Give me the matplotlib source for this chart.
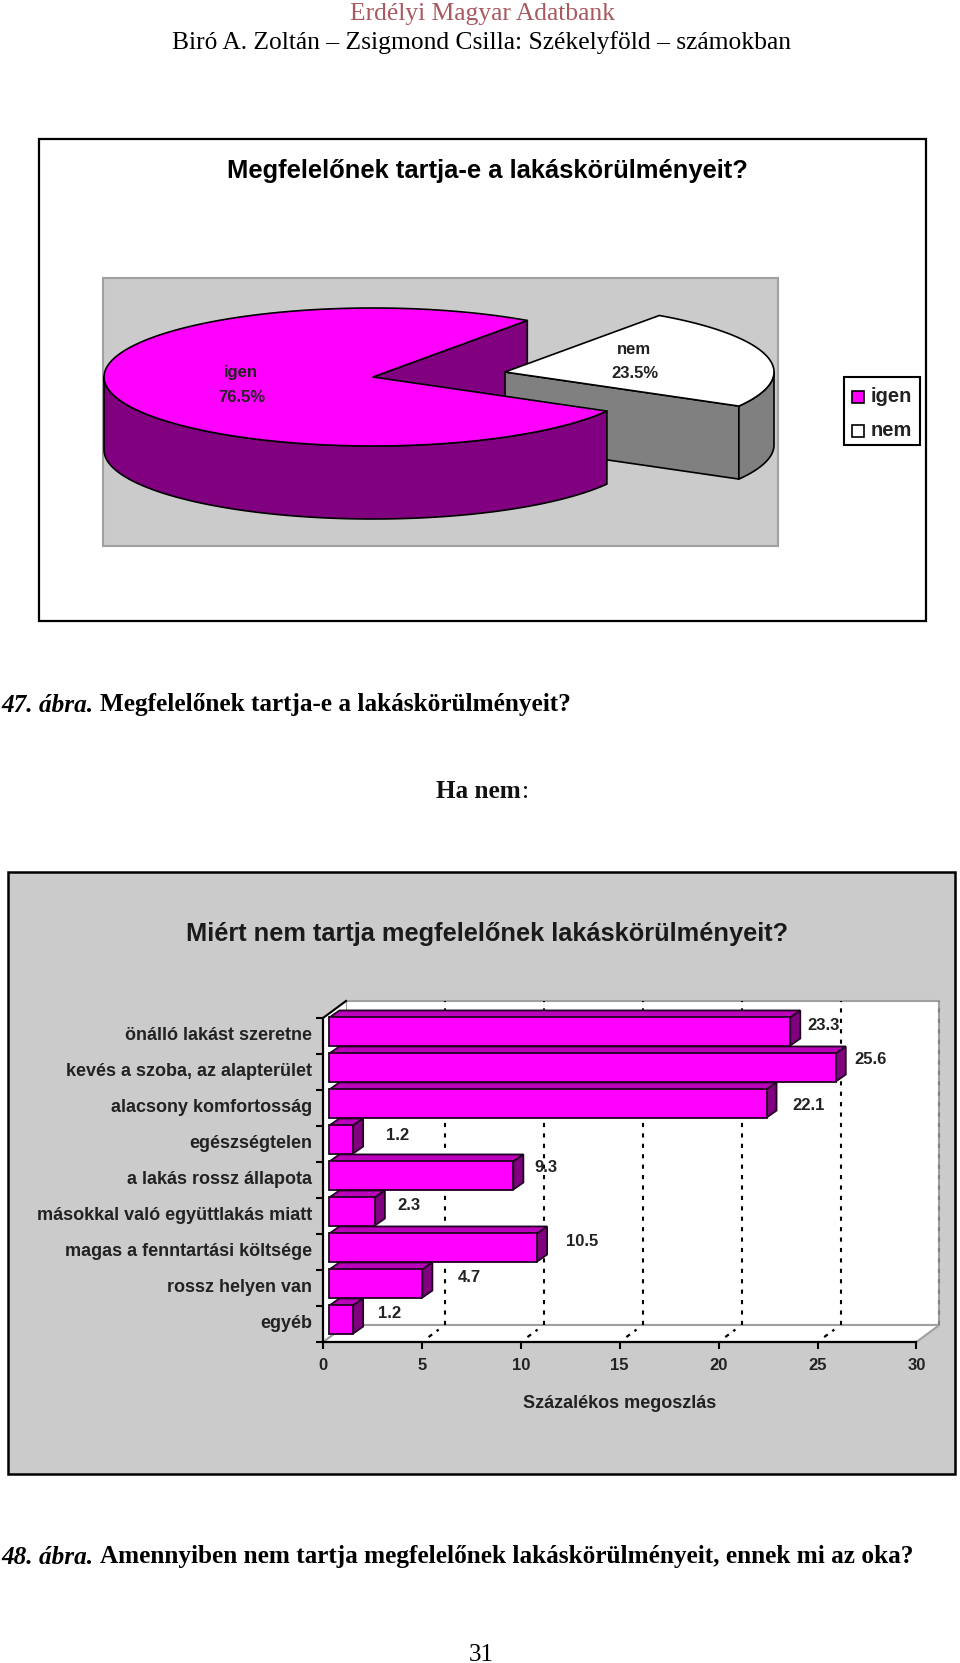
import numpy as np
import matplotlib
matplotlib.use("Agg")
import matplotlib.pyplot as plt
from matplotlib.patches import Polygon, Rectangle
from matplotlib.transforms import Affine2D, IdentityTransform, offset_copy

# pie data
pie_labels = ["igen", "nem"]
pie_shares = [76.5, 23.5]

# bar data
bar_labels = ["önálló lakást szeretne", "kevés a szoba, az alapterület", "alacsony komfortosság",
              "egészségtelen", "a lakás rossz állapota", "másokkal való együttlakás miatt",
              "magas a fenntartási költsége", "rossz helyen van", "egyéb"]
bar_values = [23.3, 25.6, 22.1, 1.2, 9.3, 2.3, 10.5, 4.7, 1.2]
x_ticks = [0, 5, 10, 15, 20, 25, 30]

W, H = 960, 1663
MAGENTA = "#ff00ff"
PURPLE = "#800080"
BAR_TOP = "#bb00bb"
GREY = "#808080"
PANEL = "#cbcbcb"
SANS = "Liberation Sans"
SERIF = "Liberation Serif"

plt.rcParams["font.family"] = SANS
fig = plt.figure(figsize=(W / 100, H / 100), dpi=100, facecolor="white")

# whole page, in pixels
page = fig.add_axes([0, 0, 1, 1])
page.set_xlim(0, W)
page.set_ylim(H, 0)
page.axis("off")


def box(x0, y0, x1, y1, fc, ec="black", lw=1.5, z=1):
    page.add_patch(Rectangle((x0, y0), x1 - x0, y1 - y0, fc=fc, ec=ec, lw=lw, zorder=z))


# page text
page.text(482, 14, "Erdélyi Magyar Adatbank", family=SERIF, size=18.4, color="#a85a60", ha="center", va="center")
page.text(481, 43, "Biró A. Zoltán – Zsigmond Csilla: Székelyföld – számokban", family=SERIF, size=18.4,
          ha="center", va="center")
page.text(1, 705, "47. ábra.", family=SERIF, size=18.2, weight="bold", style="italic", va="center")
page.text(100, 705, "Megfelelőnek tartja-e a lakáskörülményeit?", family=SERIF, size=18.2, weight="bold", va="center")
page.text(436, 792, "Ha nem", family=SERIF, size=18.2, weight="bold", va="center", color="#111111")
page.text(522, 792, ":", family=SERIF, size=18.2, va="center", color="#111111")
page.text(1, 1557, "48. ábra.", family=SERIF, size=18.2, weight="bold", style="italic", va="center")
page.text(100, 1557, "Amennyiben nem tartja megfelelőnek lakáskörülményeit, ennek mi az oka?", family=SERIF,
          size=18.2, weight="bold", va="center")
page.text(481, 1655, "31", family=SERIF, size=18, ha="center", va="center")

# first chart frame
box(39, 139, 926, 621, "white", lw=1.6)
box(103, 278, 778, 546, PANEL, ec="#a0a0a0", lw=1.5, z=2)
page.text(487, 171, "Megfelelőnek tartja-e a lakáskörülményeit?", size=18.4, weight="bold", ha="center", va="center")

# pie geometry: angles come from the shares
rx, ry, depth = 269, 69, 73
cx, cy = 373, 377
nx, ny = 505, 372
start = 55
end = start + pie_shares[0] * 3.6


def arc(x, y, a1, a2):
    t = np.radians(np.linspace(a1, a2, 120))
    return np.column_stack([x + rx * np.cos(t), y - ry * np.sin(t)])


def face(points, color, z):
    page.add_patch(Polygon(points, closed=True, fc=color, ec="black", lw=1.2, zorder=z, joinstyle="round"))


def rim(x, y, a1, a2, color, z):
    top = arc(x, y, a1, a2)
    face(np.vstack([top, (top + [0, depth])[::-1]]), color, z)


def cut(x, y, a, color, z):
    edge = arc(x, y, a, a)[0]
    face([(x, y), edge, edge + [0, depth], (x, y + depth)], color, z)


cut(cx, cy, start, PURPLE, 3)
cut(nx, ny, end, GREY, 4)
rim(nx, ny, end - 360, 0, GREY, 4)
face(np.vstack([[(nx, ny)], arc(nx, ny, end - 360, start)]), "white", 5)
rim(cx, cy, 180, end, PURPLE, 6)
face(np.vstack([[(cx, cy)], arc(cx, cy, start, end)]), MAGENTA, 7)

page.text(241, 372, pie_labels[0], size=12, weight="bold", color="#222222", ha="center", va="center", zorder=8)
page.text(242, 397, f"{pie_shares[0]}%", size=12, weight="bold", color="#222222", ha="center", va="center", zorder=8)
page.text(634, 350, pie_labels[1], size=12, weight="bold", color="#222222", ha="center", va="center", zorder=8)
page.text(635, 374, f"{pie_shares[1]}%", size=12, weight="bold", color="#222222", ha="center", va="center", zorder=8)

# legend
box(844, 377, 920, 445, "white", lw=1.5)
for label, color, y in zip(pie_labels, [MAGENTA, "white"], [397, 431]):
    box(852, y - 6, 864, y + 6, color, lw=1.2, z=3)
    page.text(871, y, label, size=14.5, weight="bold", color="#222222", va="center", zorder=3)

# second chart frame
box(8, 872, 955, 1474, PANEL, lw=1.8)
page.text(487, 934, "Miért nem tartja megfelelőnek lakáskörülményeit?", size=18.3, ha="center", va="center",
          weight="bold", color="#1a1a1a")

# bar axes, same pixel frame as the front of the 3d box
ax = fig.add_axes([323 / W, 1 - 1342 / H, 593.4 / W, 324 / H])
ax.patch.set_visible(False)
ax.set_xlim(0, 30)
y_pos = np.arange(len(bar_values))
ax.set_ylim(len(bar_values) - 0.5, -0.5)
for s in ["top", "right"]:
    ax.spines[s].set_visible(False)
ax.spines["left"].set_linewidth(1.6)
ax.spines["bottom"].set_linewidth(1.6)
ax.set_xticks(x_ticks)
ax.set_yticks(y_pos, bar_labels, fontsize=13, weight="bold", color="#222222")
ax.set_yticks(np.arange(len(bar_values) + 1) - 0.5, minor=True)
ax.tick_params(axis="y", which="major", length=0, pad=8)
ax.tick_params(axis="y", which="minor", length=5, width=1.5)
ax.tick_params(axis="x", length=5, width=1.5, labelsize=12, pad=6.5, labelcolor="#222222")
for lab in ax.get_xticklabels():
    lab.set_weight("bold")
for lab in ax.get_yticklabels():
    lab.set_transform(lab.get_transform() + Affine2D().translate(0, 2))
ax.set_xlabel("Százalékos megoszlás", fontsize=13, weight="bold", color="#222222", labelpad=16)

# walls and floor
back_dx, back_dy = 23, 17
back = offset_copy(ax.transData, fig, x=back_dx, y=back_dy, units="dots")
to_px = ax.transData.transform
x_l, x_r = ax.get_xlim()
y_b, y_t = ax.get_ylim()
fl, fr = to_px((x_l, y_b)), to_px((x_r, y_b))
tl = to_px((x_l, y_t))
shift = np.array([back_dx, back_dy])


def px_poly(points, fc, ec, lw, z):
    ax.add_patch(Polygon(points, closed=True, fc=fc, ec=ec, lw=lw, zorder=z, transform=IdentityTransform(),
                         clip_on=False))


tr = to_px((x_r, y_t))
px_poly([fl + shift, fr + shift, tr + shift, tl + shift], "white", "#a0a0a0", 1.5, 0.5)
px_poly([fl, fr, fr + shift, fl + shift], "white", "#a0a0a0", 1.5, 0.6)
px_poly([fl, tl, tl + shift, fl + shift], "white", "none", 0, 0.6)
ax.plot(*np.column_stack([tl, tl + shift]), color="black", lw=1.5, transform=IdentityTransform(), clip_on=False,
        zorder=0.9)
ax.plot(*np.column_stack([fl, fl + shift]), color="#a0a0a0", lw=1.5, transform=IdentityTransform(), clip_on=False,
        zorder=0.9)

for t in x_ticks[1:]:
    grid_color = "black" if t < x_ticks[-1] else GREY
    ax.plot([t, t], [y_b, y_t], color=grid_color, lw=1.5, ls=(0, (2, 3)), transform=back, clip_on=False, zorder=1)
    if t < x_ticks[-1]:
        front = to_px((t, y_b))
        a, b = front + shift * 0.29, front + shift * 0.73
        ax.plot([a[0], b[0]], [a[1], b[1]], color="black", lw=1.6, ls=(0, (2, 2.5)),
                transform=IdentityTransform(), clip_on=False, zorder=1)

# bars: front face from barh, sides built from the same data
bar_h = 0.78
bar_off = offset_copy(ax.transData, fig, x=6.4, y=4.5, units="dots")
box_dx, box_dy = 10, 7
for i, v in enumerate(bar_values):
    x0, y0 = bar_off.transform((0, i + bar_h / 2))
    x1, y1 = bar_off.transform((v, i - bar_h / 2))
    z = 2 + i * 0.01
    px_poly([(x0, y1), (x1, y1), (x1 + box_dx, y1 + box_dy), (x0 + box_dx, y1 + box_dy)], BAR_TOP, "#200020", 1.3, z)
    px_poly([(x1, y0), (x1, y1), (x1 + box_dx, y1 + box_dy), (x1 + box_dx, y0 + box_dy)], PURPLE, "#200020", 1.3, z)
bars = ax.barh(y_pos, bar_values, height=bar_h, color=MAGENTA, edgecolor="#200020", lw=1.3, zorder=3,
               transform=bar_off, clip_on=False)

# value labels sit by hand, they do not follow one rule in the original
label_dx = [40, 41, 48, 51, 39, 40, 51, 53, 43]
label_dy = [11, 13, 2, 8, 12, 11, 10, 11, 10]
for i, v in enumerate(bar_values):
    ax.annotate(f"{v}", xy=(v, i), xytext=(label_dx[i], label_dy[i]), textcoords="offset pixels", fontsize=12,
                weight="bold", color="#222222", ha="center", va="center", zorder=4, annotation_clip=False)

fig.savefig("out.png", dpi=100, facecolor="white")
